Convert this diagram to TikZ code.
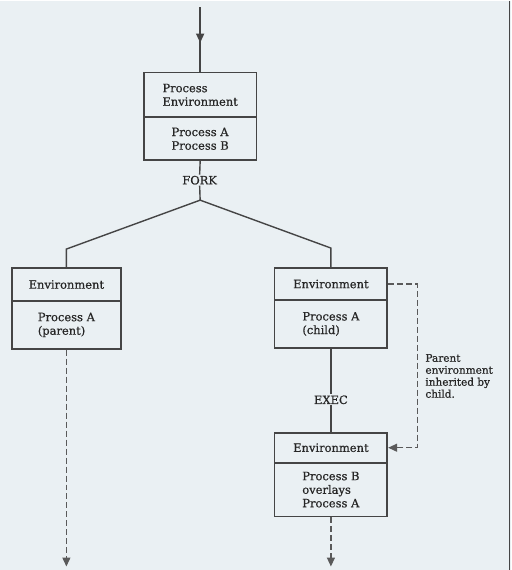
\documentclass[tikz,border=0pt]{standalone}
\usepackage{fontspec}
\setmainfont{DejaVu Serif}[FakeBold=0.6]
\usetikzlibrary{arrows.meta,decorations.markings}

\definecolor{paper}{HTML}{EAF0F3}
\definecolor{ink}{HTML}{454545}
\definecolor{inktext}{HTML}{262626}
\definecolor{dashink}{HTML}{5A5A5A}

\begin{document}
\begin{tikzpicture}[x=1pt,y=-1pt,
  cell/.style={draw=ink, line width=1.7pt, inner sep=0pt, align=left,
    text=inktext, font=\fontsize{11.5}{13.6}\selectfont},
  label/.style={text=inktext, inner sep=1pt, font=\fontsize{11.5}{13.6}\selectfont},
  note/.style={text=inktext, inner sep=0pt, align=left,
    font=\fontsize{10.5}{12}\selectfont},
  link/.style={draw=ink, line width=1.4pt},
  dashlink/.style={draw=dashink, line width=1.3pt, dash pattern=on 6pt off 3pt},
  tip/.style={-{Triangle[width=8pt,length=9pt]}},
]
% paper background and column rule
\fill[paper] (0,0) rectangle (512,570);
\draw[ink, line width=1pt] (510,0) -- (510,570);

% process before the fork
\node[cell, minimum width=113pt, minimum height=45pt] (tophead) at (200.5,94.5) {Process\\Environment};
\node[cell, minimum width=113pt, minimum height=43pt] (topbody) at (200.5,138.5) {Process A\\Process B};

% parent after the fork
\node[cell, minimum width=109pt, minimum height=33pt] (lefthead) at (66.5,284.5) {Environment};
\node[cell, minimum width=109pt, minimum height=48pt] (leftbody) at (66.5,325) {Process A\\(parent)};

% child after the fork
\node[cell, minimum width=113pt, minimum height=32pt] (righthead) at (331.5,284) {Environment};
\node[cell, minimum width=113pt, minimum height=48pt] (rightbody) at (331.5,324) {Process A\\(child)};

% child after exec
\node[cell, minimum width=113pt, minimum height=30pt] (lowhead) at (331.5,448) {Environment};
\node[cell, minimum width=113pt, minimum height=54pt] (lowbody) at (331.5,490) {Process B\\overlays\\Process A};

% system call labels
\node[label] (fork) at (200,180) {FORK};
\node[label] (exec) at (331.5,400) {EXEC};

% side note
\node[note, anchor=north west] (note) at (426,354) {Parent\\environment\\inherited by\\child.};

% entry arrow with its head half way down
\coordinate (entry) at (200.5,7);
\draw[link, postaction={decorate}, decoration={markings,
  mark=at position 0.55 with {\arrow{Triangle[width=8pt,length=9pt]}}}]
  (entry) -- (tophead.north);

% fork branches
\coordinate (split) at (200.5,200);
\coordinate (kneeL) at (66.5,249);
\coordinate (kneeR) at (331.5,248);
\draw[link] (topbody.south) -- (fork.north);
\draw[link] (fork.south) -- (split) -- (kneeL) -- (lefthead.north);
\draw[link] (split) -- (kneeR) -- (righthead.north);

% exec link
\draw[link] (rightbody.south) -- (exec.north);
\draw[link] (exec.south) -- (lowhead.north);

% inherited environment
\coordinate (ret) at (418,284);
\draw[dashlink, tip] (righthead.east) -- (ret) |- (lowhead.east);

% continuing processes
\coordinate (leftout) at (66.5,567);
\coordinate (lowout) at (331.5,567);
\draw[dashlink, tip] (leftbody.south) -- (leftout);
\draw[dashlink, tip] (lowbody.south) -- (lowout);
\end{tikzpicture}
\end{document}
